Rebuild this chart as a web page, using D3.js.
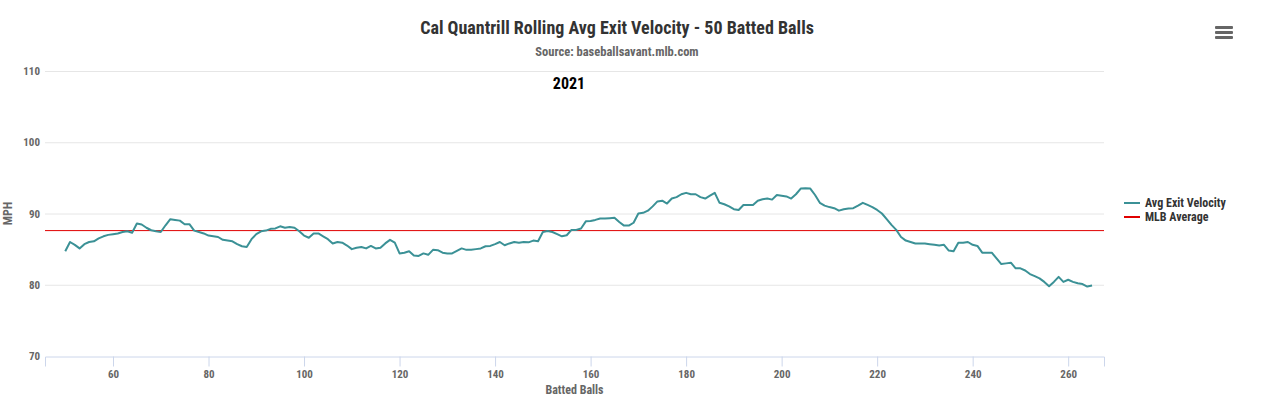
<!DOCTYPE html>
<html>
<head>
<meta charset="utf-8">
<script src="https://cdn.jsdelivr.net/npm/d3@7"></script>
<style>
  body { margin: 0; background: #fff; }
  text { font-family: "Roboto Condensed", "Liberation Sans Narrow", "DejaVu Sans Condensed", sans-serif; }
</style>
</head>
<body>
<script>
const width = 1280;
const height = 419;

// batted ball number (x) and rolling avg exit velocity (mph)
const battedBalls = d3.range(50, 266);
const exitVelo = [
  84.7, 86.0, 85.6, 85.1, 85.7, 86.0, 86.1, 86.5, 86.8, 87.0,
  87.1, 87.2, 87.4, 87.5, 87.3, 88.6, 88.45, 88.0, 87.65, 87.5,
  87.4, 88.35, 89.2, 89.1, 89.0, 88.5, 88.5, 87.6, 87.4, 87.2,
  86.9, 86.8, 86.7, 86.3, 86.2, 86.1, 85.7, 85.4, 85.3, 86.4,
  87.1, 87.5, 87.6, 87.85, 87.9, 88.2, 88.0, 88.1, 88.0, 87.5,
  86.9, 86.6, 87.2, 87.2, 86.8, 86.4, 85.8, 86.0, 85.9, 85.5,
  85.0, 85.2, 85.3, 85.1, 85.45, 85.1, 85.2, 85.8, 86.3, 85.9,
  84.4, 84.5, 84.7, 84.1, 84.05, 84.4, 84.2, 84.9, 84.85, 84.5,
  84.4, 84.4, 84.75, 85.1, 84.9, 84.9, 85.0, 85.1, 85.4, 85.45,
  85.7, 86.0, 85.55, 85.8, 86.0, 85.9, 86.0, 85.95, 86.2, 86.1,
  87.4, 87.55, 87.4, 87.1, 86.8, 86.95, 87.7, 87.7, 87.9, 88.9,
  88.95, 89.1, 89.3, 89.3, 89.35, 89.4, 88.8, 88.3, 88.3, 88.7,
  90.0, 90.1, 90.4, 91.0, 91.7, 91.8, 91.4, 92.1, 92.3, 92.7,
  92.9, 92.7, 92.7, 92.3, 92.1, 92.5, 92.9, 91.5, 91.3, 91.0,
  90.6, 90.5, 91.2, 91.2, 91.2, 91.8, 92.0, 92.1, 91.95, 92.6,
  92.5, 92.4, 92.1, 92.7, 93.5, 93.55, 93.5, 92.6, 91.5, 91.1,
  90.9, 90.75, 90.4, 90.6, 90.7, 90.75, 91.1, 91.5, 91.2, 90.9,
  90.5, 90.0, 89.2, 88.4, 87.7, 86.7, 86.2, 86.0, 85.8, 85.8,
  85.8, 85.7, 85.6, 85.5, 85.6, 84.8, 84.7, 85.9, 85.9, 86.0,
  85.6, 85.45, 84.5, 84.5, 84.5, 83.7, 82.9, 83.0, 83.1, 82.3,
  82.3, 82.0, 81.5, 81.2, 80.9, 80.4, 79.8, 80.4, 81.1, 80.4,
  80.7, 80.4, 80.2, 80.1, 79.75, 79.9
];
const mlbAverage = 87.6;

const xTicks = [60, 80, 100, 120, 140, 160, 180, 200, 220, 240, 260];
const yTicks = [70, 80, 90, 100, 110];

const seriesNames = ["Avg Exit Velocity", "MLB Average"];
const seriesColors = ["#3b9196", "#e00000"];

const margin = {top: 71, right: 176, bottom: 63, left: 45};

const x = d3.scaleLinear()
    .domain([45.76, 267.5])
    .range([margin.left, width - margin.right]);

const y = d3.scaleLinear()
    .domain([70, 110])
    .range([height - margin.bottom, margin.top]);

const svg = d3.select("body")
    .append("svg")
    .attr("width", width)
    .attr("height", height);

// horizontal grid
svg.append("g")
    .selectAll("line")
    .data(yTicks.slice(1))
    .join("line")
    .attr("x1", margin.left)
    .attr("x2", width - margin.right)
    .attr("y1", d => y(d) + 0.5)
    .attr("y2", d => y(d) + 0.5)
    .attr("stroke", "#e6e6e6");

// y tick labels
svg.append("g")
    .selectAll("text")
    .data(yTicks)
    .join("text")
    .attr("x", 40)
    .attr("y", d => y(d) + 4)
    .attr("text-anchor", "end")
    .attr("font-size", 11)
    .attr("font-weight", "bold")
    .attr("fill", "#666")
    .text(d => d);

// x axis
const xAxis = svg.append("g")
    .attr("transform", `translate(0,${y(70) + 0.5})`)
    .call(d3.axisBottom(x).tickValues(xTicks).tickSize(10).tickPadding(4));

xAxis.select(".domain").attr("stroke", "#ccd6eb");
xAxis.selectAll(".tick line").attr("stroke", "#ccd6eb");
xAxis.selectAll(".tick text")
    .attr("font-size", 11)
    .attr("font-weight", "bold")
    .attr("fill", "#666")
    .attr("font-family", null);

// axis titles
svg.append("text")
    .attr("x", (margin.left + width - margin.right) / 2)
    .attr("y", 394)
    .attr("text-anchor", "middle")
    .attr("font-size", 12)
    .attr("font-weight", "bold")
    .attr("fill", "#666")
    .text("Batted Balls");

svg.append("text")
    .attr("transform", `translate(12,${(y(70) + y(110)) / 2}) rotate(-90)`)
    .attr("text-anchor", "middle")
    .attr("font-size", 12)
    .attr("font-weight", "bold")
    .attr("fill", "#666")
    .text("MPH");

// MLB average
svg.append("line")
    .attr("x1", margin.left)
    .attr("x2", width - margin.right)
    .attr("y1", y(mlbAverage))
    .attr("y2", y(mlbAverage))
    .attr("stroke", seriesColors[1])
    .attr("stroke-width", 1);

// rolling average line
const line = d3.line()
    .x((d, i) => x(battedBalls[i]))
    .y(d => y(d));

svg.append("path")
    .datum(exitVelo)
    .attr("fill", "none")
    .attr("stroke", seriesColors[0])
    .attr("stroke-width", 2)
    .attr("stroke-linejoin", "round")
    .attr("d", line);

// titles
svg.append("text")
    .attr("x", 617)
    .attr("y", 34)
    .attr("text-anchor", "middle")
    .attr("font-size", 18)
    .attr("font-weight", "bold")
    .attr("fill", "#333")
    .text("Cal Quantrill Rolling Avg Exit Velocity - 50 Batted Balls");

svg.append("text")
    .attr("x", 617)
    .attr("y", 56)
    .attr("text-anchor", "middle")
    .attr("font-size", 12.5)
    .attr("font-weight", "bold")
    .attr("fill", "#666")
    .text("Source: baseballsavant.mlb.com");

svg.append("text")
    .attr("x", 569)
    .attr("y", 89)
    .attr("text-anchor", "middle")
    .attr("font-size", 16)
    .attr("font-weight", "bold")
    .attr("fill", "#000")
    .text("2021");

// legend
const legend = svg.append("g")
    .selectAll("g")
    .data(seriesNames)
    .join("g")
    .attr("transform", (d, i) => `translate(1124,${203 + i * 14})`);

legend.append("line")
    .attr("x1", 0)
    .attr("x2", 16)
    .attr("stroke", (d, i) => seriesColors[i])
    .attr("stroke-width", 2);

legend.append("text")
    .attr("x", 21)
    .attr("y", 4)
    .attr("font-size", 12)
    .attr("font-weight", "bold")
    .attr("fill", "#333")
    .text(d => d);

// menu button
svg.append("g")
    .selectAll("rect")
    .data([0, 1, 2])
    .join("rect")
    .attr("x", 1215)
    .attr("y", d => 26 + d * 5)
    .attr("width", 18)
    .attr("height", 3)
    .attr("rx", 1)
    .attr("fill", "#666");
</script>
</body>
</html>
